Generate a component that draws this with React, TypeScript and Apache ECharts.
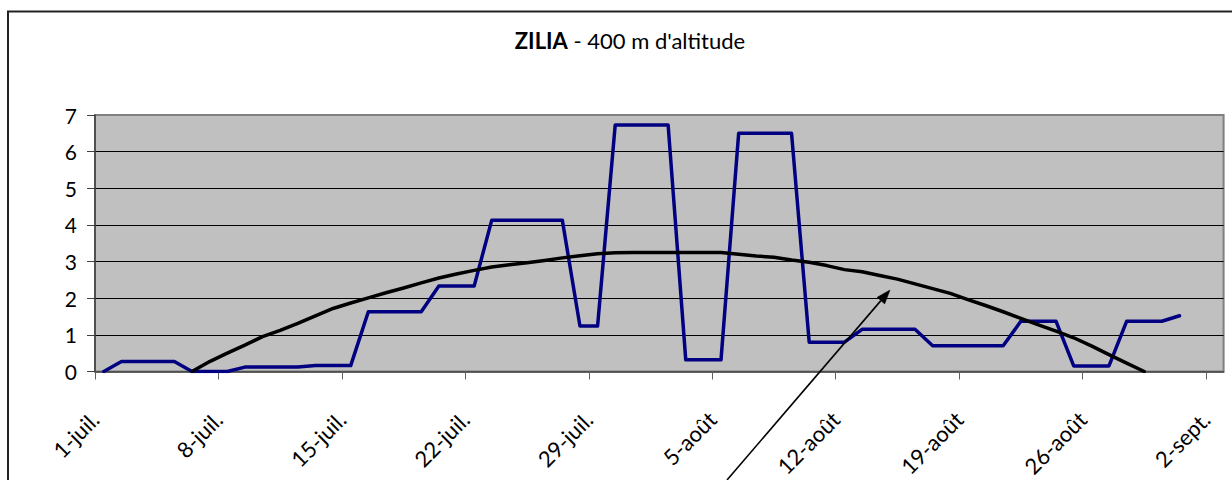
import React, { useEffect, useRef } from "react";
import * as echarts from "echarts";

const tickDays = [0, 7, 14, 21, 28, 35, 42, 49, 56, 63];
const tickLabels = ["1-juil.", "8-juil.", "15-juil.", "22-juil.", "29-juil.", "5-août", "12-août", "19-août", "26-août", "2-sept."];

// daily values from 1-juil. (index 0)
const blueValues = [
  0, 0.27, 0.27, 0.27, 0.27, 0, 0, 0, 0.12, 0.12,
  0.12, 0.12, 0.16, 0.16, 0.16, 1.63, 1.63, 1.63, 1.63, 2.33,
  2.33, 2.33, 4.13, 4.13, 4.13, 4.13, 4.13, 1.24, 1.24, 6.73,
  6.73, 6.73, 6.73, 0.32, 0.32, 0.32, 6.5, 6.5, 6.5, 6.5,
  0.8, 0.8, 0.8, 1.15, 1.15, 1.15, 1.15, 0.7, 0.7, 0.7,
  0.7, 0.7, 1.37, 1.37, 1.37, 0.15, 0.15, 0.15, 1.37, 1.37,
  1.37, 1.52,
];

const blackValues = [
  null, null, null, null, null, 0, 0.27, 0.5, 0.72, 0.95,
  1.12, 1.31, 1.52, 1.72, 1.87, 2.01, 2.15, 2.28, 2.42, 2.55,
  2.66, 2.76, 2.85, 2.91, 2.97, 3.03, 3.1, 3.16, 3.21, 3.24,
  3.25, 3.25, 3.25, 3.25, 3.25, 3.25, 3.2, 3.15, 3.12, 3.04,
  2.98, 2.89, 2.78, 2.72, 2.62, 2.52, 2.39, 2.26, 2.13, 1.96,
  1.8, 1.63, 1.45, 1.27, 1.1, 0.92, 0.7, 0.46, 0.23, 0,
  null, null, null, null,
];

const FONT = "Lato, 'Open Sans', sans-serif";

function toPairs(vals: (number | null)[]) {
  const out: [number, number][] = [];
  vals.forEach((v, i) => {
    if (v !== null && v !== undefined) out.push([i + 0.5, v]);
  });
  return out;
}

export default function App() {
  const ref = useRef<HTMLDivElement>(null);
  useEffect(() => {
    if (!ref.current) return;
    const chart = echarts.init(ref.current, undefined, { renderer: "svg" });
    const tip = [890, 290];
    const tail = [727, 480];
    const dx = tip[0] - tail[0];
    const dy = tip[1] - tail[1];
    const len = Math.sqrt(dx * dx + dy * dy);
    const ux = dx / len, uy = dy / len;
    const hl = 14, hw = 5;
    const bx = tip[0] - ux * hl, by = tip[1] - uy * hl;
    const nx = -uy, ny = ux;
    chart.setOption({
      animation: false,
      backgroundColor: "#ffffff",
      title: {
        text: "{b|ZILIA} - 400 m d'altitude",
        left: 625,
        top: 24,
        textAlign: "center",
        textStyle: {
          fontFamily: FONT,
          fontSize: 22,
          fontWeight: "normal",
          color: "#000",
          rich: {
            b: { fontFamily: FONT, fontSize: 22, fontWeight: "bold", color: "#000" },
          },
        },
      },
      grid: {
        left: 95,
        top: 115,
        right: 8.4,
        bottom: 106.7,
        show: true,
        backgroundColor: "#C0C0C0",
        borderColor: "#808080",
        borderWidth: 2,
        containLabel: false,
      },
      xAxis: {
        type: "value",
        min: 0,
        max: 64,
        interval: 7,
        axisLine: { show: true, onZero: false, lineStyle: { color: "#404040", width: 1.5 } },
        axisTick: { show: true, length: 8, customValues: tickDays, lineStyle: { color: "#606060" } },
        splitLine: { show: false },
        axisLabel: {
          customValues: tickDays,
          rotate: 45,
          margin: 44,
          fontFamily: FONT,
          fontSize: 22,
          color: "#000",
          formatter: (v: number) => tickLabels[Math.round(v / 7)] ?? "",
        },
      },
      yAxis: {
        type: "value",
        min: 0,
        max: 7,
        interval: 1,
        axisLine: { show: true, lineStyle: { color: "#404040", width: 1.5 } },
        axisTick: { show: true, length: 8, lineStyle: { color: "#404040" } },
        splitLine: { show: true, showMinLine: false, showMaxLine: false, lineStyle: { color: "#000", width: 1 } },
        axisLabel: { margin: 18, fontFamily: FONT, fontSize: 21, color: "#000" },
      },
      series: [
        {
          type: "line",
          data: toPairs(blueValues),
          showSymbol: false,
          symbol: "none",
          lineStyle: { color: "#000080", width: 3.5, join: "round", cap: "round" },
          itemStyle: { color: "#000080" },
          z: 3,
        },
        {
          type: "line",
          data: toPairs(blackValues),
          showSymbol: false,
          symbol: "none",
          lineStyle: { color: "#000000", width: 3.5, join: "round", cap: "round" },
          itemStyle: { color: "#000" },
          z: 4,
        },
      ],
      graphic: [
        {
          type: "rect",
          shape: { x: 8, y: 11.5, width: 1400, height: 700 },
          style: { fill: "none", stroke: "#222", lineWidth: 2 },
          silent: true,
          z: 100,
        },
        {
          type: "line",
          shape: { x1: tail[0], y1: tail[1], x2: bx, y2: by },
          style: { stroke: "#000", lineWidth: 1.6 },
          silent: true,
          z: 100,
        },
        {
          type: "polygon",
          shape: {
            points: [
              [tip[0], tip[1]],
              [bx + nx * hw, by + ny * hw],
              [bx - nx * hw, by - ny * hw],
            ],
          },
          style: { fill: "#000", stroke: "#000", lineWidth: 0.5 },
          silent: true,
          z: 100,
        },
      ],
    });
    return () => chart.dispose();
  }, []);
  return (
    <div
      ref={ref}
      style={{ position: "absolute", left: 0, top: 0, width: 1232, height: 480 }}
    />
  );
}
